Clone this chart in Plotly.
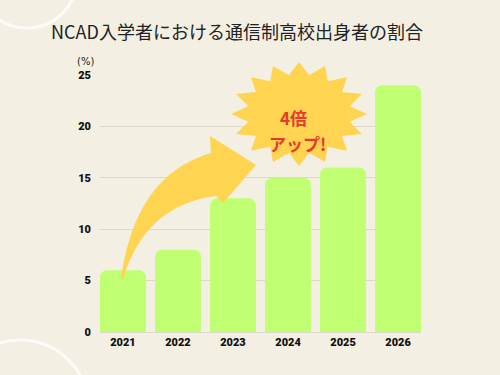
import numpy as np
import plotly.graph_objects as go

years = ["2021", "2022", "2023", "2024", "2025", "2026"]
ratio = [6, 8, 13, 15, 16, 24]
y_ticks = [0, 5, 10, 15, 20, 25]
title_text = "NCAD入学者における通信制高校出身者の割合"
badge_line1 = "4倍"
badge_line2 = "アップ!"

W, H = 500, 375
L, R, T, B = 100, 421, 75, 332  # plot area in pixels


def P(x, y):
    return ((x - L) / (R - L), (B - y) / (B - T))


def path_from(points, closed=True):
    s = ""
    for i, (x, y) in enumerate(points):
        px, py = P(x, y)
        s += ("M" if i == 0 else "L") + f"{px:.4f},{py:.4f} "
    return s + ("Z" if closed else "")


def qbez(p0, p1, p2, n=30):
    t = np.linspace(0, 1, n)[:, None]
    p0, p1, p2 = map(np.array, (p0, p1, p2))
    return ((1 - t) ** 2 * p0 + 2 * (1 - t) * t * p1 + t ** 2 * p2).tolist()


bg = "#F3EFE3"
yellow = "#FFD451"

fig = go.Figure()
fig.add_trace(go.Bar(
    x=years, y=ratio, marker=dict(color="#C1FF72", line=dict(width=0), cornerradius=7),
    width=0.835, hoverinfo="skip",
))

shapes = []
# faint decorative circles
for cx, cy, r in [(27, -22, 50), (20, 409, 69)]:
    x0, y0 = P(cx - r, cy - r)
    x1, y1 = P(cx + r, cy + r)
    shapes.append(dict(type="circle", xref="paper", yref="paper", x0=x0, y0=y0, x1=x1, y1=y1,
                       line=dict(color="rgba(255,255,255,0.75)", width=3), layer="below"))

# curved arrow
outer = qbez((121, 279), (135, 175), (211, 153))
inner = qbez((216, 196), (145, 205), (123, 279))
head = [(211, 153), (210, 136), (256, 165), (223, 203), (216, 196)]
arrow_pts = outer + head[1:] + inner
shapes.append(dict(type="path", xref="paper", yref="paper", path=path_from(arrow_pts),
                   fillcolor=yellow, line=dict(width=0), layer="above"))

# starburst
cx, cy = 299, 114
n = 16
pts = []
for i in range(2 * n):
    a = -np.pi / 2 + i * np.pi / n
    k = 1.0 if i % 2 == 0 else 0.76
    pts.append((cx + 68 * k * np.cos(a), cy + 52 * k * np.sin(a)))
shapes.append(dict(type="path", xref="paper", yref="paper", path=path_from(pts),
                   fillcolor=yellow, line=dict(width=0), layer="above"))

annotations = [
    dict(text=badge_line1, xref="paper", yref="paper", x=P(293, 103)[0], y=P(293, 103)[1],
         showarrow=False, font=dict(family="Noto Sans CJK JP", size=17, color="#E8392A", weight="bold")),
    dict(text=badge_line2, xref="paper", yref="paper", x=P(297, 129)[0], y=P(297, 129)[1],
         showarrow=False, font=dict(family="Noto Sans CJK JP", size=17, color="#E8392A", weight="bold")),
    dict(text="(%)", xref="paper", yref="paper", x=P(96, 62)[0], y=P(96, 62)[1],
         xanchor="right", yanchor="middle", showarrow=False,
         font=dict(family="DejaVu Sans", size=10, color="#222")),
]

fig.update_layout(
    width=W, height=H,
    margin=dict(l=L, r=W - R, t=T, b=H - B, pad=0),
    paper_bgcolor=bg, plot_bgcolor=bg,
    title=dict(text=title_text, x=P(237, 0)[0], xref="paper", xanchor="center",
               y=1 - 33 / H, yanchor="middle",
               font=dict(family="Noto Sans CJK JP", size=18, color="#222")),
    showlegend=False,
    shapes=shapes, annotations=annotations,
    xaxis=dict(range=[-0.4175, 5.4175], showgrid=False, zeroline=False, showline=False,
               ticks="", tickfont=dict(family="Roboto", size=11, color="#111", weight=900),
               ticklabelstandoff=2),
    yaxis=dict(range=[0, 25], tickvals=y_ticks, showgrid=True, gridcolor="#DCD8CC", gridwidth=1,
               zeroline=True, zerolinecolor="#DCD8CC", zerolinewidth=1, showline=False, ticks="",
               tickfont=dict(family="Roboto", size=11, color="#111", weight=900),
               ticklabelstandoff=8),
)

fig.write_html("out.html", config={"displayModeBar": False},
               post_script="document.body.style.margin='0px';document.body.style.background='#F3EFE3';")
